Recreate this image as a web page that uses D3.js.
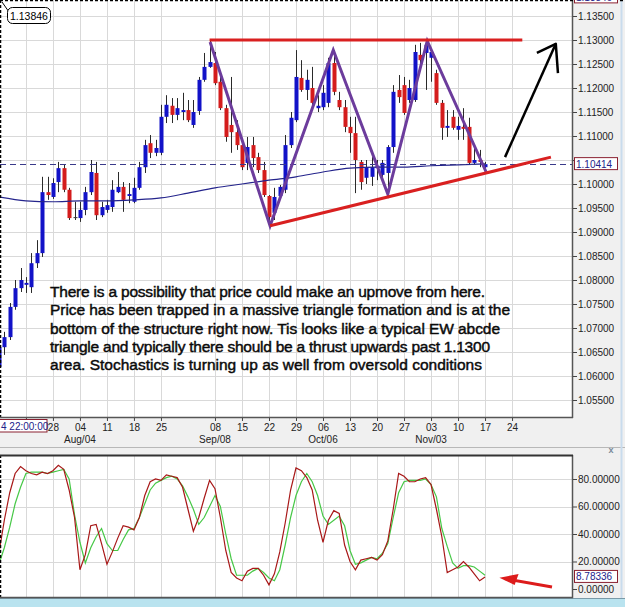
<!DOCTYPE html>
<html>
<head>
<meta charset="utf-8">
<script src="https://cdn.jsdelivr.net/npm/d3@7/dist/d3.min.js"></script>
<style>
body { margin: 0; background: #fff; }
svg { display: block; font-family: "Liberation Sans", Arial, sans-serif; }
</style>
</head>
<body>
<div id="chart"></div>
<script>
// daily candles, index 0 = Mon 28 Jul 2014 (first bar is index -10)
var firstIndex = -10;
var opens = [1.0619,1.0660,1.0681,1.0744,1.0783,1.0790,1.0785,1.0835,1.0856,1.0983,
    1.0973,1.1004,1.1033,1.0988,1.0929,1.0929,1.0946,1.0983,1.1023,1.0935,
    1.0946,1.0952,1.0983,1.0994,1.0975,1.0963,1.0992,1.1035,1.1085,1.1065,
    1.1065,1.1140,1.1163,1.1144,1.1150,1.1154,1.1123,1.1152,1.1217,1.1244,
    1.1252,1.1213,1.1158,1.1123,1.1108,1.1081,1.1044,1.1081,1.1056,1.1029,
    1.0975,1.0940,1.0975,1.0988,1.1081,1.1133,1.1221,1.1196,1.1200,1.1158,
    1.1160,1.1169,1.1252,1.1175,1.1160,1.1119,1.1106,1.1046,1.1013,1.1015,
    1.1033,1.1019,1.1023,1.1077,1.1196,1.1206,1.1175,1.1175,1.1269,1.1273,
    1.1263,1.1231,1.1169,1.1117,1.1140,1.1113,1.1119,1.1119,1.1044,1.1050,
    1.1035];
var highs = [1.0670,1.0692,1.0752,1.0800,1.0825,1.0806,1.0856,1.0883,1.1015,1.1015,
    1.1012,1.1046,1.1040,1.0992,1.0963,1.0963,1.0994,1.1050,1.1046,1.0963,
    1.0967,1.1008,1.1025,1.1004,1.1002,1.1013,1.1046,1.1092,1.1102,1.1092,
    1.1165,1.1185,1.1179,1.1179,1.1190,1.1175,1.1175,1.1223,1.1273,1.1298,
    1.1275,1.1231,1.1165,1.1223,1.1133,1.1092,1.1098,1.1098,1.1065,1.1046,
    1.0977,1.0992,1.0998,1.1102,1.1150,1.1279,1.1258,1.1238,1.1244,1.1185,
    1.1206,1.1263,1.1279,1.1192,1.1175,1.1140,1.1140,1.1050,1.1050,1.1056,
    1.1050,1.1050,1.1081,1.1206,1.1227,1.1223,1.1217,1.1290,1.1294,1.1298,
    1.1279,1.1238,1.1175,1.1154,1.1154,1.1140,1.1158,1.1138,1.1075,1.1071,
    1.1046];
var lows = [1.0600,1.0644,1.0675,1.0738,1.0775,1.0773,1.0773,1.0825,1.0848,1.0967,
    1.0969,1.0983,1.0983,1.0925,1.0925,1.0921,1.0935,1.0977,1.0925,1.0931,
    1.0940,1.0942,1.0981,1.0942,1.0960,1.0960,1.0988,1.1023,1.1054,1.1058,
    1.1060,1.1127,1.1127,1.1133,1.1133,1.1129,1.1117,1.1144,1.1213,1.1242,
    1.1206,1.1154,1.1088,1.1065,1.1071,1.1029,1.1029,1.1035,1.1023,1.0973,
    1.0915,1.0925,1.0967,1.0981,1.1075,1.1129,1.1192,1.1175,1.1154,1.1150,
    1.1154,1.1160,1.1185,1.1154,1.1108,1.1065,1.0981,1.0988,1.1000,1.0996,
    1.1008,1.1008,1.0979,1.1065,1.1169,1.1144,1.1169,1.1171,1.1252,1.1196,
    1.1213,1.1165,1.1092,1.1098,1.1113,1.1092,1.1092,1.1040,1.1040,1.1035,
    1.1025];
var closes = [1.0660,1.0681,1.0744,1.0783,1.0800,1.0794,1.0835,1.0856,1.0983,1.0977,
    1.1002,1.1033,1.0988,1.0929,1.0931,1.0946,1.0983,1.1025,1.0935,1.0952,
    1.0956,1.0988,1.0994,1.0967,1.0979,1.0992,1.1035,1.1081,1.1065,1.1075,
    1.1140,1.1165,1.1144,1.1158,1.1154,1.1133,1.1150,1.1217,1.1244,1.1254,
    1.1210,1.1158,1.1098,1.1108,1.1081,1.1035,1.1077,1.1054,1.1029,1.0977,
    1.0931,1.0973,1.0994,1.1081,1.1138,1.1223,1.1196,1.1217,1.1169,1.1163,
    1.1190,1.1252,1.1192,1.1160,1.1119,1.1106,1.1050,1.1004,1.1035,1.1035,
    1.1038,1.1044,1.1077,1.1192,1.1181,1.1148,1.1200,1.1275,1.1258,1.1290,
    1.1275,1.1169,1.1117,1.1121,1.1117,1.1121,1.1115,1.1044,1.1050,1.1046,
    1.10414];

// moving average, read every 5 bars
var maIndex = [-10,-5,0,5,10,15,20,25,30,35,40,45,50,55,60,65,70,75,80];
var maValues = [1.0973,1.0965,1.0963,1.0965,1.0965,1.0967,1.0971,1.0981,1.0992,1.1000,
    1.1008,1.1015,1.1025,1.1033,1.1035,1.1035,1.1038,1.1040,1.1042];

// stochastics %K and %D, same bars
var stochK = [26,50,70,84,89,86,84,83,85,84,
    86,90,87,72,52,14,25,46,47,33,
    18,27,37,46,45,43,52,68,78,80,
    79,83,82,81,74,58,42,52,66,79,
    73,52,28,12,8,6,13,15,15,10,
    3,11,27,48,72,88,86,81,72,50,
    34,50,57,55,32,20,14,21,22,23,
    21,25,35,58,84,82,78,78,80,81,
    76,58,38,12,14,16,20,16,11,6,
    8.78];
var stochD = [18,30,45,62,74,84,85,85,85,84,
    85,86,87,80,54,34,19,30,38,44,
    33,28,28,36,43,44,52,62,72,77,
    79,81,82,80,75,67,58,47,52,60,
    68,60,40,22,10,10,10,13,15,12,
    8,6,14,32,52,68,78,84,78,68,
    53,47,50,53,46,28,18,19,21,23,
    22,26,33,52,70,78,79,79,79,80,
    76,67,44,31,19,15,17,17,16,13,
    10];

var lastPrice = 1.10414;
var topPrice = 1.13846;
var lastStoch = 8.78336;

// date axis: Monday of each week (Sep 01 not labelled, Jul 21 hidden under the cursor box)
var tickIndex = [-5,0,5,10,15,20,30,35,40,45,50,55,60,65,70,75,80,85];
var tickLabels = ['','28','04','11','18','25','08','15','22','29','06','13','20','27','03','10','17','24'];
var monthIndex = [5,30,50,70];
var monthLabels = ['Aug/04','Sep/08','Oct/06','Nov/03'];
var priceTicks = d3.range(1.055, 1.1351, 0.005);
var stochTicks = [0,20,40,60,80];

// hand drawn marks, [bar index, value]
var topLine = [[29,1.1300],[86.9,1.1300]];
var bottomLine = [[40.2,1.0913],[92.2,1.1056]];
var wave = [[29.1,1.1296],[40.2,1.0913],[51.9,1.1279],[62,1.0979],[69.3,1.1298],[80.2,1.1025]];
var arrowUp = [[83.7,1.1056],[93.1,1.1292]];
var arrowUpHead = [[89.6,1.1273],[93.1,1.1292],[93.5,1.1231]];
var stochArrow = [[92.4,1.5],[83.6,7.6]];
var stochArrowHead = [[86.0,10.2],[83.1,8],[85.4,3.6]];

var note = [
    'There is a possibility that price could make an upmove from here.',
    'Price has been trapped in a massive triangle formation and is at the',
    'bottom of the structure right now. Tis looks like a typical EW abcde',
    'triangle and typically there should be a thrust upwards past 1.1300',
    'area. Stochastics is turning up as well from oversold conditions'
];
var noteWidths = [435, 460, 450, 440, 432];

var W = 625, H = 607;
var plotR = 572;
var mainTop = 0, mainBottom = 417;
var stTop = 455, stBottom = 597;

var svg = d3.select('#chart').append('svg')
    .attr('width', W)
    .attr('height', H);

var x = d3.scaleLinear().domain([-9.8, 96.1]).range([0, plotR]);
var y = d3.scaleLinear().domain([1.055, 1.135]).range([400, 16]);
var ys = d3.scaleLinear().domain([0, 80]).range([589, 479]);

// backgrounds
svg.append('rect').attr('x', 0).attr('y', 0).attr('width', W).attr('height', H).attr('fill', '#f0f0f0');
svg.append('rect').attr('x', 0).attr('y', mainTop).attr('width', plotR).attr('height', mainBottom - mainTop).attr('fill', '#fff');
svg.append('rect').attr('x', 0).attr('y', stTop).attr('width', plotR).attr('height', stBottom - stTop).attr('fill', '#fff');
svg.append('line').attr('x1', 0).attr('x2', W).attr('y1', 447.5).attr('y2', 447.5).attr('stroke', '#b8b8b8');
svg.append('rect').attr('x', 0).attr('y', 598).attr('width', W).attr('height', 9).attr('fill', '#b9e3ef');
svg.append('line').attr('x1', 0).attr('x2', W).attr('y1', 598.5).attr('y2', 598.5).attr('stroke', '#7a9aa8');
svg.append('line').attr('x1', 621.5).attr('x2', 621.5).attr('y1', 0).attr('y2', 598).attr('stroke', '#c9dced').attr('stroke-width', 2);

var defs = svg.append('defs');
defs.append('clipPath').attr('id', 'clipMain').append('rect')
    .attr('x', 0).attr('y', mainTop).attr('width', plotR).attr('height', mainBottom - mainTop);
defs.append('clipPath').attr('id', 'clipSt').append('rect')
    .attr('x', 0).attr('y', stTop).attr('width', plotR).attr('height', stBottom - stTop);

// grids
var gridColor = '#d9d9d9';
var main = svg.append('g').attr('clip-path', 'url(#clipMain)');
main.selectAll('.vg').data(tickIndex).enter().append('line')
    .attr('x1', function(d) { return Math.round(x(d)) + 0.5; })
    .attr('x2', function(d) { return Math.round(x(d)) + 0.5; })
    .attr('y1', mainTop).attr('y2', mainBottom)
    .attr('stroke', gridColor);
main.selectAll('.hg').data(priceTicks).enter().append('line')
    .attr('x1', 0).attr('x2', plotR)
    .attr('y1', function(d) { return Math.round(y(d)) + 0.5; })
    .attr('y2', function(d) { return Math.round(y(d)) + 0.5; })
    .attr('stroke', gridColor);

var st = svg.append('g').attr('clip-path', 'url(#clipSt)');
st.selectAll('.vg').data(tickIndex).enter().append('line')
    .attr('x1', function(d) { return Math.round(x(d)) + 0.5; })
    .attr('x2', function(d) { return Math.round(x(d)) + 0.5; })
    .attr('y1', stTop).attr('y2', stBottom)
    .attr('stroke', gridColor);
st.selectAll('.hg').data(stochTicks.slice(1)).enter().append('line')
    .attr('x1', 0).attr('x2', plotR)
    .attr('y1', function(d) { return Math.round(ys(d)) + 0.5; })
    .attr('y2', function(d) { return Math.round(ys(d)) + 0.5; })
    .attr('stroke', gridColor);

// note text
var noteG = svg.append('g');
noteG.selectAll('text').data(note).enter().append('text')
    .attr('x', 50)
    .attr('y', function(d, i) { return 297 + i * 18.3; })
    .attr('font-size', 15.5)
    .attr('textLength', function(d, i) { return noteWidths[i]; })
    .attr('lengthAdjust', 'spacing')
    .attr('fill', '#0a0a0a')
    .attr('stroke', '#0a0a0a')
    .attr('stroke-width', 0.45)
    .text(function(d) { return d; });

// candles
var bars = d3.range(opens.length).map(function(k) {
    return { i: firstIndex + k, o: opens[k], h: highs[k], l: lows[k], c: closes[k] };
});

var candle = main.selectAll('.candle').data(bars).enter().append('g');
candle.append('line')
    .attr('x1', function(d) { return Math.round(x(d.i)) + 0.5; })
    .attr('x2', function(d) { return Math.round(x(d.i)) + 0.5; })
    .attr('y1', function(d) { return y(d.h); })
    .attr('y2', function(d) { return y(d.l); })
    .attr('stroke', '#2a2a2a');
candle.append('rect')
    .attr('x', function(d) { return Math.round(x(d.i)) - 1.5; })
    .attr('width', 4)
    .attr('y', function(d) { return y(Math.max(d.o, d.c)); })
    .attr('height', function(d) { return Math.max(1, Math.abs(y(d.o) - y(d.c))); })
    .attr('fill', function(d) {
        if (Math.abs(d.c - d.o) < 0.0003) return '#3a3a3a';
        return d.c > d.o ? '#1212c8' : '#d41c1c';
    });

// moving average
var maLine = d3.line()
    .x(function(d, k) { return x(maIndex[k]); })
    .y(function(d) { return y(d); })
    .curve(d3.curveMonotoneX);
main.append('path')
    .attr('d', maLine(maValues))
    .attr('fill', 'none')
    .attr('stroke', '#24248c')
    .attr('stroke-width', 1.2);

// last price dashed line
main.append('line')
    .attr('x1', 0).attr('x2', plotR)
    .attr('y1', Math.round(y(lastPrice)) + 0.5).attr('y2', Math.round(y(lastPrice)) + 0.5)
    .attr('stroke', '#3a3a8a')
    .attr('stroke-dasharray', '6,4');

// hand drawn triangle
var pline = d3.line()
    .x(function(d) { return x(d[0]); })
    .y(function(d) { return y(d[1]); });
main.append('path').attr('d', pline(wave))
    .attr('fill', 'none').attr('stroke', '#6c3c9c').attr('stroke-width', 3).attr('stroke-linejoin', 'miter');
main.append('path').attr('d', pline(topLine))
    .attr('fill', 'none').attr('stroke', '#d92020').attr('stroke-width', 3);
main.append('path').attr('d', pline(bottomLine))
    .attr('fill', 'none').attr('stroke', '#d92020').attr('stroke-width', 3);
main.append('path').attr('d', pline(arrowUp))
    .attr('fill', 'none').attr('stroke', '#000').attr('stroke-width', 2.5);
main.append('path').attr('d', pline(arrowUpHead))
    .attr('fill', 'none').attr('stroke', '#000').attr('stroke-width', 2.5).attr('stroke-linejoin', 'round');

// stochastics
var sline = d3.line()
    .x(function(d, k) { return x(firstIndex + k); })
    .y(function(d) { return ys(d); });
st.append('path').attr('d', sline(stochD))
    .attr('fill', 'none').attr('stroke', '#46c846').attr('stroke-width', 1.2);
st.append('path').attr('d', sline(stochK))
    .attr('fill', 'none').attr('stroke', '#a81818').attr('stroke-width', 1.2);

var saline = d3.line()
    .x(function(d) { return x(d[0]); })
    .y(function(d) { return ys(d[1]); });
st.append('path').attr('d', saline(stochArrow))
    .attr('fill', 'none').attr('stroke', '#dd1c1c').attr('stroke-width', 3);
st.append('path').attr('d', saline(stochArrowHead) + 'Z')
    .attr('fill', '#dd1c1c').attr('stroke', '#dd1c1c').attr('stroke-width', 1.5);

// frames
function frame(top, bottom) {
    svg.append('line').attr('x1', 0.5).attr('x2', 0.5).attr('y1', top).attr('y2', bottom)
        .attr('stroke', '#000').attr('stroke-width', 1.5).attr('stroke-dasharray', '3,2');
    svg.append('line').attr('x1', plotR + 0.5).attr('x2', plotR + 0.5).attr('y1', top).attr('y2', bottom + 1)
        .attr('stroke', '#555').attr('stroke-width', 1.5);
    svg.append('line').attr('x1', 0).attr('x2', plotR + 1).attr('y1', bottom + 0.5).attr('y2', bottom + 0.5)
        .attr('stroke', '#555').attr('stroke-width', 1.5);
}
frame(mainTop, mainBottom);
frame(stTop, stBottom);
svg.append('line').attr('x1', 0).attr('x2', W).attr('y1', 0.5).attr('y2', 0.5)
    .attr('stroke', '#000').attr('stroke-width', 1.5).attr('stroke-dasharray', '3,2');
svg.append('line').attr('x1', 0).attr('x2', plotR + 1).attr('y1', stTop + 0.5).attr('y2', stTop + 0.5)
    .attr('stroke', '#333').attr('stroke-width', 2);

// axes (the 1.10500 label sits under the last price box)
var yAxis = d3.axisRight(y)
    .tickValues(priceTicks)
    .tickFormat(function(d) { return Math.abs(d - 1.105) < 1e-6 ? '' : d3.format('.5f')(d); })
    .tickSize(4).tickPadding(1);
var yAxisG = svg.append('g')
    .attr('transform', 'translate(' + (plotR + 1) + ',0)')
    .call(yAxis);

var sAxis = d3.axisRight(ys)
    .tickValues(stochTicks)
    .tickFormat(d3.format('.5f'))
    .tickSize(4).tickPadding(1);
var sAxisG = svg.append('g')
    .attr('transform', 'translate(' + (plotR + 1) + ',0)')
    .call(sAxis);

var xAxis = d3.axisBottom(x)
    .tickValues(tickIndex)
    .tickFormat(function(d, k) { return tickLabels[k]; })
    .tickSize(3).tickPadding(3);
var xAxisG = svg.append('g')
    .attr('transform', 'translate(0,' + (mainBottom + 1) + ')')
    .call(xAxis);

[yAxisG, sAxisG, xAxisG].forEach(function(g) {
    g.select('.domain').remove();
    g.selectAll('line').attr('stroke', '#444');
    g.selectAll('text').attr('font-size', 10).attr('fill', '#222')
        .attr('font-family', '"Liberation Sans", Arial, sans-serif');
});

svg.selectAll('.month').data(monthIndex).enter().append('text')
    .attr('x', function(d) { return x(d); })
    .attr('y', 443)
    .attr('text-anchor', 'middle')
    .attr('font-size', 10)
    .attr('fill', '#222')
    .text(function(d, k) { return monthLabels[k]; });

// close cross of the lower pane
svg.append('text').attr('x', 611).attr('y', 453).attr('text-anchor', 'middle')
    .attr('font-size', 9).attr('font-weight', 'bold').attr('fill', '#7a8a9a').text('x');

// value boxes
function valueBox(cy, label) {
    svg.append('rect').attr('x', 574.5).attr('y', cy - 6.5).attr('width', 43).attr('height', 12)
        .attr('fill', '#fff').attr('stroke', '#8a2030');
    svg.append('text').attr('x', 576).attr('y', cy + 3.5)
        .attr('font-size', 10).attr('fill', '#22228a').text(label);
}
valueBox(y(lastPrice), d3.format('.5f')(lastPrice));
valueBox(y(topPrice) - 2, d3.format('.5f')(topPrice));
valueBox(ys(lastStoch), d3.format('.5f')(lastStoch));

// crosshair time box
svg.append('rect').attr('x', -1).attr('y', 419.5).attr('width', 48).attr('height', 12.5)
    .attr('fill', '#fff').attr('stroke', '#8a2030');
svg.append('text').attr('x', 1).attr('y', 429.5)
    .attr('font-size', 10).attr('fill', '#22228a').text('4 22:00:00');

// top left price callout
svg.append('path').attr('d', 'M2,2 L9,12')
    .attr('stroke', '#000').attr('stroke-width', 1);
svg.append('rect').attr('x', 7.5).attr('y', 7.5).attr('width', 43).attr('height', 16).attr('rx', 5)
    .attr('fill', '#fff').attr('stroke', '#000');
svg.append('text').attr('x', 10).attr('y', 19.5)
    .attr('font-size', 10.5).attr('fill', '#000').text(d3.format('.5f')(topPrice));
</script>
</body>
</html>
